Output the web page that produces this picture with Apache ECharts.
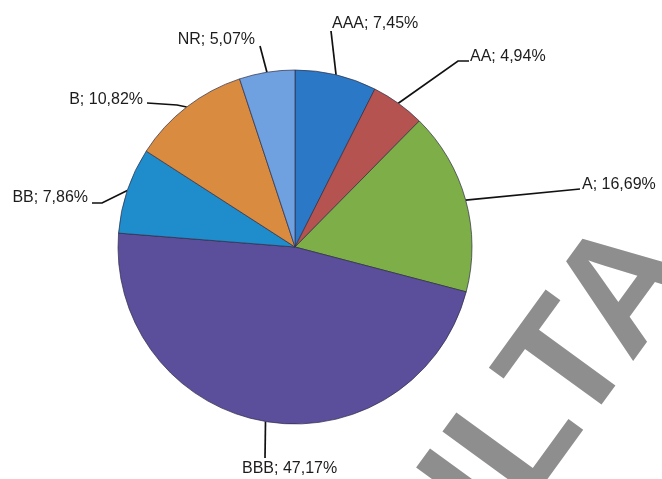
<!DOCTYPE html>
<html>
<head>
<meta charset="utf-8">
<title>Rating distribution</title>
<script src="https://cdn.jsdelivr.net/npm/echarts@6/dist/echarts.min.js"></script>
<style>
  html, body { margin: 0; padding: 0; background: #ffffff; }
  #chart { width: 662px; height: 479px; }
</style>
</head>
<body>
<div id="chart"></div>
<script>
// Rating classes and their share of the portfolio (%)
const categories = ['AAA', 'AA', 'A', 'BBB', 'BB', 'B', 'NR'];
const shares = [7.45, 4.94, 16.69, 47.17, 7.86, 10.82, 5.07];

// Slice colours, in the same order as the categories
const sliceColors = ['#2b79c6', '#b4534f', '#7dae47', '#5b4e9b', '#1f8ccb', '#d98b40', '#6fa0e0'];

// Where each label sits and how its leader line bends (text anchor + elbow points)
const labelPlacement = {
  AAA: { x: 332, y: 24, align: 'left',   elbows: [[331, 31]] },
  AA:  { x: 470, y: 57, align: 'left',   elbows: [[458, 61], [469, 61]] },
  A:   { x: 582, y: 185, align: 'left',  elbows: [[580, 189]] },
  BBB: { x: 242, y: 469, align: 'left',  elbows: [[265, 458]] },
  BB:  { x: 88,  y: 198, align: 'right', elbows: [[102, 203], [92, 203]] },
  B:   { x: 143, y: 100, align: 'right', elbows: [[177, 105], [147, 103]] },
  NR:  { x: 255, y: 40,  align: 'right', elbows: [[260, 46]] }
};

function pct(v) {
  return v.toFixed(2).replace('.', ',') + '%';
}

const chart = echarts.init(document.getElementById('chart'), null, { renderer: 'canvas' });

chart.setOption({
  backgroundColor: '#ffffff',
  animation: false,
  graphic: [{
    type: 'text',
    x: 421,
    y: 576,
    rotation: 54 * Math.PI / 180,
    z: 0,
    silent: true,
    style: {
      text: 'ULTA',
      x: 0,
      y: 0,
      fill: '#8e8e8e',
      font: 'bold 164px "Liberation Sans", Arial, sans-serif',
      align: 'left',
      verticalAlign: 'middle'
    }
  }],
  series: [{
    type: 'pie',
    center: [295, 247],
    radius: 177,
    startAngle: 90,
    clockwise: true,
    avoidLabelOverlap: false,
    data: categories.map((name, i) => ({
      name: name,
      value: shares[i],
      itemStyle: { color: sliceColors[i] }
    })),
    itemStyle: {
      borderColor: 'rgba(45,45,70,0.7)',
      borderWidth: 1
    },
    label: {
      show: true,
      position: 'outside',
      formatter: p => p.name + '; ' + pct(p.value),
      fontFamily: '"Liberation Sans", Arial, sans-serif',
      fontSize: 16,
      color: '#1c1c1c'
    },
    labelLine: {
      show: true,
      smooth: false,
      length: 20,
      length2: 10,
      lineStyle: { color: '#111111', width: 1.7 }
    },
    labelLayout: function (params) {
      const name = categories[params.dataIndex];
      const place = labelPlacement[name];
      const start = params.labelLinePoints ? params.labelLinePoints[0] : null;
      const out = {
        x: place.x,
        y: place.y,
        align: place.align,
        verticalAlign: 'middle'
      };
      if (start) {
        out.labelLinePoints = [start].concat(place.elbows);
      }
      return out;
    },
    emphasis: { disabled: true }
  }]
});
</script>
</body>
</html>
